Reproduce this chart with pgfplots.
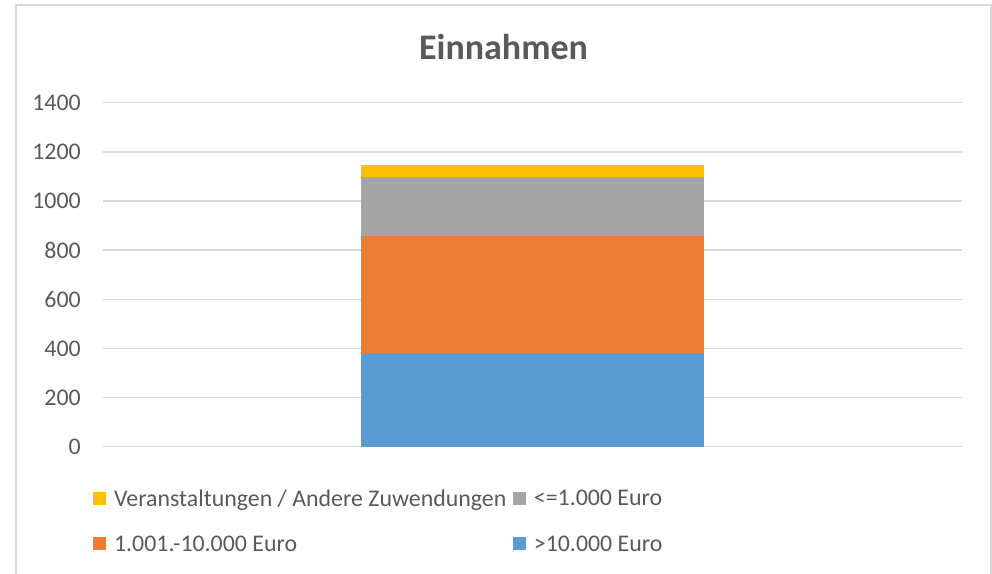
\documentclass[border=0pt]{standalone}
\usepackage{fontspec}
\setmainfont{Carlito}
\usepackage{pgfplots}
\pgfplotsset{compat=1.18}
\definecolor{ctext}{HTML}{595959}
\definecolor{cgrid}{HTML}{D9D9D9}
\definecolor{cblue}{HTML}{5B9BD5}
\definecolor{corange}{HTML}{ED7D31}
\definecolor{cgray}{HTML}{A5A5A5}
\definecolor{cyellow}{HTML}{FFC000}
\begin{document}
\begin{tikzpicture}[x=0.75pt,y=0.75pt]
\useasboundingbox (-103,-127.3) rectangle (889,446.7);
\draw[cgrid, line width=1.5pt] (-87,-130) -- (-87,441.7) -- (888,441.7) -- (888,-130);
\begin{axis}[
  at={(0,0)}, anchor=south west,
  scale only axis,
  width=644.25pt, height=258pt,
  xmin=0, xmax=1,
  ymin=0, ymax=1400,
  ytick={0,200,...,1400},
  xtick=\empty,
  axis line style={draw=none},
  major tick length=0pt,
  ymajorgrids,
  grid style={cgrid, line width=1pt},
  ybar stacked,
  bar width=0.4,
  /pgf/number format/assume math mode=true,
  /pgf/number format/1000 sep={},
  yticklabel style={font=\fontsize{17.9}{21}\selectfont, text=ctext, inner sep=0pt, anchor=east, xshift=-16.5pt},
  legend columns=2,
  reverse legend,
  legend style={draw=none, fill=none, at={(-0.0116,-0.125)}, anchor=north west,
    font=\fontsize{17.9}{21}\selectfont, text=ctext, inner sep=0pt,
    nodes={inner sep=0pt, anchor=west},
    row sep=20.5pt,
    /tikz/every even column/.append style={column sep=5pt},
    /tikz/every odd column/.append style={column sep=6pt}},
  legend cell align=left,
  legend image code/.code={\path (0pt,-6pt) -- (0pt,5.6pt);\fill[#1] (0pt,-4pt) rectangle (9.6pt,5.6pt);},
]
\addplot[fill=cblue, draw=none] coordinates {(0.5,381)};
\addplot[fill=corange, draw=none] coordinates {(0.5,476)};
\addplot[fill=cgray, draw=none] coordinates {(0.5,240)};
\addplot[fill=cyellow, draw=none] coordinates {(0.5,49)};
\legend{>10.000 Euro, 1.001.-10.000 Euro, <=1.000 Euro, Veranstaltungen / Andere Zuwendungen}
\end{axis}
\node[anchor=base, text=ctext, font=\fontsize{27}{32}\selectfont\bfseries] at (400.5,386.7) {Einnahmen};
\end{tikzpicture}
\end{document}
